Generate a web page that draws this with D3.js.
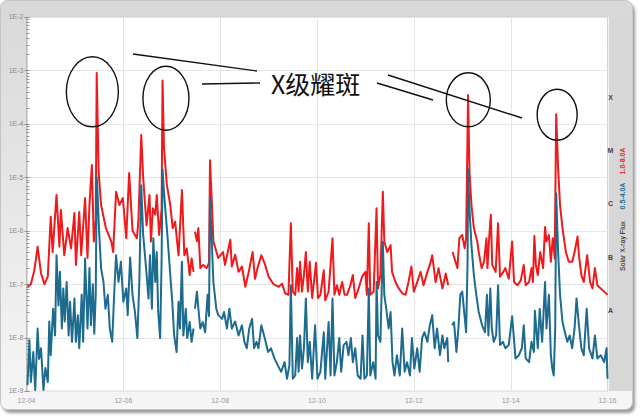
<!DOCTYPE html>
<html>
<head>
<meta charset="utf-8">
<script src="https://cdn.jsdelivr.net/npm/d3@7"></script>
<style>
  html, body { margin: 0; padding: 0; background: #fff; }
  svg { display: block; }
</style>
</head>
<body>
<svg id="chart" width="640" height="418"></svg>
<script>
// days since 12-04 00:00, log10 of flux (W/m2); null = data gap
const longSeries = [[0.02,-7.05],[0.09,-7.0],[0.16,-6.75],[0.23,-6.3],[0.30,-6.8],[0.37,-7.0],[0.44,-6.86],[0.50,-5.74],[0.54,-6.4],[0.62,-5.33],[0.68,-6.3],[0.71,-5.61],[0.78,-6.46],[0.85,-5.95],[0.92,-6.33],[0.99,-5.67],[1.02,-6.64],[1.09,-5.65],[1.13,-6.46],[1.21,-5.39],[1.26,-6.51],[1.30,-5.52],[1.35,-4.77],[1.39,-6.2],[1.43,-5.8],[1.45,-3.05],[1.49,-4.9],[1.54,-5.52],[1.64,-5.95],[1.75,-6.2],[1.79,-6.4],[1.85,-5.27],[1.92,-5.52],[1.99,-5.39],[2.06,-6.14],[2.12,-4.92],[2.19,-6.0],[2.28,-6.14],[2.31,-5.83],[2.37,-4.21],[2.41,-5.01],[2.48,-5.9],[2.54,-5.33],[2.57,-6.2],[2.61,-5.58],[2.66,-5.7],[2.69,-5.33],[2.74,-6.08],[2.79,-5.6],[2.81,-3.19],[2.84,-4.45],[2.90,-5.15],[2.97,-5.52],[3.02,-5.95],[3.07,-5.83],[3.14,-6.46],[3.21,-5.24],[3.26,-6.46],[3.31,-6.33],[3.37,-6.83],[3.41,-6.52],[3.45,-6.77],[3.46,null],[3.48,-6.02],[3.52,-6.2],[3.55,-5.95],[3.59,-6.7],[3.65,-6.64],[3.72,-6.7],[3.77,-6.6],[3.79,-4.68],[3.83,-5.52],[3.86,-6.2],[3.96,-6.51],[4.06,-6.4],[4.10,-6.64],[4.21,-6.17],[4.24,-6.67],[4.31,-6.45],[4.38,-6.77],[4.45,-6.67],[4.52,-7.05],[4.59,-6.77],[4.67,-6.4],[4.72,-6.9],[4.77,-6.7],[4.85,-6.46],[4.93,-6.64],[5.00,-6.86],[5.10,-7.0],[5.21,-7.05],[5.28,-6.99],[5.34,-7.17],[5.41,-7.2],[5.46,-5.86],[5.50,-7.14],[5.55,-7.2],[5.59,-6.7],[5.62,-7.14],[5.65,-6.58],[5.69,-7.14],[5.73,-6.83],[5.77,-6.4],[5.81,-7.14],[5.85,-6.58],[5.90,-7.26],[5.98,-6.6],[6.02,-7.26],[6.07,-7.2],[6.14,-6.74],[6.17,-7.3],[6.24,-7.14],[6.32,-6.14],[6.36,-7.2],[6.41,-7.02],[6.46,-7.2],[6.52,-6.96],[6.57,-7.2],[6.62,-7.2],[6.69,-7.02],[6.74,-6.83],[6.79,-7.26],[6.86,-7.08],[6.93,-6.86],[7.00,-6.77],[7.03,-7.2],[7.07,-5.86],[7.10,-7.2],[7.17,-7.14],[7.23,-5.58],[7.26,-7.08],[7.31,-6.83],[7.36,-5.27],[7.39,-6.2],[7.45,-6.4],[7.52,-6.27],[7.55,-6.77],[7.62,-6.96],[7.69,-7.08],[7.76,-7.17],[7.83,-7.2],[7.89,-6.96],[7.95,-6.67],[8.00,-7.14],[8.07,-6.96],[8.14,-6.77],[8.20,-7.02],[8.28,-6.77],[8.33,-6.64],[8.38,-6.46],[8.45,-6.96],[8.51,-6.7],[8.59,-7.08],[8.66,-6.8],[8.71,-7.02],[8.75,null],[8.80,-6.4],[8.84,-6.52],[8.90,-6.7],[8.94,-6.14],[9.00,-6.08],[9.05,-6.33],[9.08,-6.14],[9.12,-3.46],[9.15,-4.9],[9.19,-5.52],[9.24,-5.95],[9.31,-6.2],[9.34,-6.4],[9.40,-6.7],[9.45,-6.58],[9.50,-6.14],[9.52,-6.7],[9.56,-6.08],[9.59,-5.7],[9.62,-6.64],[9.69,-6.77],[9.74,-5.86],[9.78,-6.86],[9.83,-6.8],[9.89,-6.7],[9.96,-6.9],[10.03,-6.2],[10.07,-6.96],[10.14,-7.02],[10.21,-6.93],[10.27,-6.64],[10.31,-7.02],[10.38,-6.96],[10.43,-6.7],[10.46,-6.96],[10.49,-6.1],[10.52,-6.64],[10.56,-6.83],[10.61,-6.4],[10.67,-6.7],[10.71,-5.93],[10.74,-6.2],[10.79,-6.08],[10.83,-6.58],[10.87,-6.14],[10.91,-6.52],[10.94,-3.82],[10.98,-4.83],[11.02,-5.52],[11.07,-5.95],[11.14,-6.4],[11.20,-6.58],[11.27,-6.58],[11.32,-6.4],[11.38,-6.11],[11.41,-6.46],[11.46,-6.83],[11.51,-6.96],[11.58,-6.46],[11.64,-6.96],[11.69,-7.08],[11.74,-6.7],[11.79,-7.02],[11.86,-7.08],[11.93,-7.14],[12.0,-7.2]]

const shortSeries = [[0.02,-8.89],[0.06,-8.05],[0.09,-8.83],[0.14,-8.27],[0.18,-8.98],[0.23,-7.83],[0.26,-8.4],[0.30,-8.2],[0.35,-8.98],[0.39,-8.57],[0.44,-8.83],[0.47,-7.7],[0.50,-8.33],[0.55,-7.46],[0.59,-7.96],[0.62,-6.46],[0.66,-7.4],[0.69,-6.77],[0.73,-7.83],[0.76,-7.08],[0.79,-7.7],[0.83,-6.96],[0.87,-7.96],[0.90,-7.33],[0.94,-8.08],[0.99,-7.27],[1.02,-8.08],[1.06,-7.58],[1.09,-8.2],[1.14,-7.2],[1.17,-8.08],[1.21,-6.52],[1.26,-7.83],[1.30,-6.7],[1.33,-7.77],[1.37,-7.0],[1.40,-7.93],[1.43,-7.2],[1.45,-5.0],[1.47,-5.35],[1.50,-6.02],[1.54,-6.7],[1.59,-6.96],[1.63,-7.46],[1.68,-7.2],[1.72,-7.83],[1.77,-8.08],[1.81,-7.2],[1.85,-6.46],[1.90,-6.96],[1.95,-6.58],[2.00,-7.33],[2.06,-7.08],[2.09,-7.58],[2.14,-6.5],[2.19,-7.2],[2.24,-7.52],[2.29,-8.01],[2.33,-6.96],[2.37,-5.15],[2.41,-6.08],[2.47,-6.7],[2.52,-7.27],[2.55,-6.46],[2.59,-7.46],[2.62,-6.14],[2.66,-6.96],[2.69,-6.4],[2.72,-7.52],[2.76,-8.01],[2.79,-6.58],[2.81,-4.85],[2.83,-5.15],[2.86,-5.52],[2.91,-6.08],[2.97,-6.83],[3.01,-7.33],[3.05,-7.96],[3.10,-8.27],[3.14,-7.33],[3.17,-7.83],[3.21,-6.58],[3.24,-7.96],[3.29,-7.46],[3.32,-8.01],[3.37,-7.71],[3.41,-8.08],[3.45,-7.83],[3.46,null],[3.48,-7.46],[3.52,-7.14],[3.55,-7.46],[3.59,-7.83],[3.64,-7.71],[3.69,-7.9],[3.74,-7.2],[3.77,-7.6],[3.79,-5.39],[3.83,-6.27],[3.86,-6.96],[3.92,-7.46],[3.96,-7.58],[4.04,-7.65],[4.08,-7.52],[4.14,-7.83],[4.19,-7.46],[4.24,-7.83],[4.31,-7.7],[4.38,-7.96],[4.45,-7.77],[4.50,-8.08],[4.55,-8.2],[4.60,-7.83],[4.66,-7.65],[4.70,-8.2],[4.75,-8.08],[4.79,-8.2],[4.85,-7.77],[4.92,-8.01],[4.99,-8.27],[5.05,-8.2],[5.12,-8.39],[5.19,-8.52],[5.26,-8.64],[5.33,-8.46],[5.38,-8.77],[5.43,-8.52],[5.46,-7.02],[5.50,-8.77],[5.55,-8.71],[5.59,-8.01],[5.62,-8.64],[5.65,-7.96],[5.69,-8.58],[5.73,-8.2],[5.77,-7.27],[5.81,-8.46],[5.85,-8.08],[5.90,-8.77],[5.96,-7.77],[6.01,-8.77],[6.07,-8.64],[6.14,-7.9],[6.17,-8.77],[6.24,-7.71],[6.28,-8.71],[6.32,-7.27],[6.36,-8.71],[6.41,-8.46],[6.46,-8.01],[6.50,-8.64],[6.55,-8.14],[6.61,-8.08],[6.65,-8.33],[6.70,-8.01],[6.74,-8.46],[6.79,-8.2],[6.84,-8.71],[6.90,-8.77],[6.94,-7.96],[6.98,-8.77],[7.03,-8.71],[7.07,-7.08],[7.10,-8.71],[7.16,-8.46],[7.21,-8.77],[7.23,-6.96],[7.26,-7.96],[7.31,-8.08],[7.36,-6.21],[7.39,-7.2],[7.43,-7.46],[7.48,-7.83],[7.52,-7.52],[7.56,-8.46],[7.60,-8.71],[7.65,-8.33],[7.71,-8.71],[7.76,-7.83],[7.81,-8.64],[7.86,-8.46],[7.92,-8.71],[7.96,-8.01],[8.01,-8.58],[8.07,-8.2],[8.12,-8.64],[8.17,-8.01],[8.22,-7.9],[8.28,-8.08],[8.33,-7.77],[8.38,-7.58],[8.43,-8.2],[8.48,-7.83],[8.54,-8.33],[8.59,-7.96],[8.63,-8.2],[8.69,-8.01],[8.71,-8.46],[8.75,null],[8.79,-7.77],[8.83,-7.71],[8.88,-8.27],[8.92,-7.83],[8.96,-7.2],[9.00,-7.14],[9.04,-7.52],[9.08,-7.9],[9.11,-6.58],[9.12,-4.85],[9.15,-5.6],[9.19,-6.27],[9.24,-6.83],[9.29,-7.2],[9.34,-7.52],[9.41,-7.77],[9.47,-7.9],[9.51,-7.2],[9.54,-7.96],[9.58,-7.08],[9.61,-7.83],[9.65,-8.08],[9.70,-7.96],[9.74,-7.02],[9.78,-8.14],[9.84,-8.08],[9.89,-8.2],[9.96,-8.14],[10.03,-7.6],[10.10,-8.39],[10.17,-8.33],[10.23,-8.2],[10.27,-7.77],[10.31,-8.39],[10.38,-8.46],[10.43,-8.08],[10.48,-8.27],[10.50,-7.5],[10.56,-8.2],[10.60,-7.46],[10.65,-8.08],[10.71,-6.96],[10.74,-7.83],[10.79,-7.2],[10.83,-8.33],[10.86,-8.58],[10.89,-8.71],[10.92,-7.83],[10.94,-5.3],[10.98,-6.4],[11.02,-7.2],[11.07,-7.71],[11.12,-7.9],[11.17,-8.08],[11.22,-7.96],[11.27,-8.2],[11.32,-7.83],[11.36,-7.27],[11.41,-7.77],[11.46,-8.2],[11.51,-8.33],[11.57,-7.46],[11.62,-8.2],[11.69,-8.39],[11.74,-7.96],[11.79,-8.39],[11.86,-8.33],[11.93,-8.46],[11.98,-8.2],[12.0,-8.77]]

const xTicks = [0, 2, 4, 6, 8, 10, 12]
const xLabels = ['12-04', '12-06', '12-08', '12-10', '12-12', '12-14', '12-16']
const classNames = ['A', 'B', 'C', 'M', 'X']
const classBounds = [1e-8, 1e-7, 1e-6, 1e-5, 1e-4, 1e-3]
const seriesNames = ['1.0-8.0A', '0.5-4.0A']
const axisTitle = 'Solar X-ray Flux'
const flareLabel = 'X级耀斑'
// circled flares: [day, log10 flux] of the ellipse centre, radii in px
const flareMarks = [[1.36, -3.40, 26, 35], [2.88, -3.52, 23, 32], [9.125, -3.55, 22, 27], [10.96, -3.83, 20, 25.5]]

const pLeft = 26.5, pRight = 607.5, pTop = 17, pBottom = 391
const red = '#ee1a1c', blue = '#1d6b8f'

const svg = d3.select('#chart')
const defs = svg.append('defs')
const grad = defs.append('linearGradient').attr('id', 'panelGrad').attr('x1', 0).attr('y1', 0).attr('x2', 0).attr('y2', 1)
grad.append('stop').attr('offset', '0%').attr('stop-color', '#d8d8d8')
grad.append('stop').attr('offset', '100%').attr('stop-color', '#f6f6f6')
defs.append('filter').attr('id', 'blur').append('feGaussianBlur').attr('stdDeviation', 1.6)

// panel + shadow
svg.append('rect').attr('x', 3).attr('y', 4).attr('width', 632).attr('height', 409).attr('rx', 7)
    .attr('fill', '#9a9a9a').attr('filter', 'url(#blur)')
svg.append('rect').attr('x', 0.5).attr('y', 0.5).attr('width', 632).attr('height', 409).attr('rx', 7)
    .attr('fill', 'url(#panelGrad)').attr('stroke', '#c4c4c4')
svg.append('rect').attr('x', pRight).attr('y', pTop).attr('width', 25).attr('height', pBottom - pTop)
    .attr('fill', '#d7d7d7')
svg.append('line').attr('x1', pRight + 1).attr('x2', pRight + 1).attr('y1', pTop).attr('y2', pBottom)
    .attr('stroke', '#f4f4f4')

const x = d3.scaleLinear().domain([0, 12]).range([pLeft, pRight])
const y = d3.scaleLog().domain([1e-9, 1e-2]).range([pBottom, pTop])

svg.append('rect').attr('x', pLeft).attr('y', pTop).attr('width', pRight - pLeft).attr('height', pBottom - pTop)
    .attr('fill', '#fff').attr('stroke', '#c2c2c2').attr('stroke-width', 0.6)

const isMajor = d => Math.abs(Math.log10(d) - Math.round(Math.log10(d))) < 1e-6
const decades = y.ticks().filter(isMajor)

// grid
svg.append('g').selectAll('line').data(decades).join('line')
    .attr('x1', pLeft).attr('x2', pRight)
    .attr('y1', d => Math.round(y(d)) + 0.5).attr('y2', d => Math.round(y(d)) + 0.5)
    .attr('stroke', '#e6e6e6')
svg.append('g').selectAll('line').data(xTicks.slice(1, -1)).join('line')
    .attr('y1', pTop).attr('y2', pBottom)
    .attr('x1', d => Math.round(x(d)) + 0.5).attr('x2', d => Math.round(x(d)) + 0.5)
    .attr('stroke', '#e6e6e6')

// y axis ticks (log, minor every 1..9)
svg.append('g').selectAll('line').data(y.ticks()).join('line')
    .attr('x1', d => isMajor(d) ? pLeft - 2 : pLeft).attr('x2', pLeft + 3)
    .attr('y1', d => Math.round(y(d)) + 0.5).attr('y2', d => Math.round(y(d)) + 0.5)
    .attr('stroke', '#777').attr('stroke-width', 0.8)
svg.append('line').attr('x1', pLeft + 0.5).attr('x2', pLeft + 0.5).attr('y1', pTop).attr('y2', pBottom)
    .attr('stroke', '#999').attr('stroke-width', 0.8)
svg.append('g').selectAll('text').data(decades).join('text')
    .attr('x', pLeft - 3).attr('y', d => y(d)).attr('dy', '0.35em')
    .attr('text-anchor', 'end')
    .attr('font-family', 'Liberation Sans, Arial, sans-serif').attr('font-size', 7).attr('fill', '#8a8a8a')
    .text(d => '1E' + Math.round(Math.log10(d)))

// x labels
svg.append('g').selectAll('text').data(xTicks).join('text')
    .attr('x', d => x(d)).attr('y', 403).attr('text-anchor', 'middle')
    .attr('font-family', 'Liberation Sans, Arial, sans-serif').attr('font-size', 7).attr('fill', '#999')
    .text((d, i) => xLabels[i])

// flare class letters on the right strip
svg.append('g').selectAll('text').data(classNames).join('text')
    .attr('x', pRight + 3).attr('y', (d, i) => y(Math.sqrt(classBounds[i] * classBounds[i + 1])))
    .attr('dy', '0.35em').attr('text-anchor', 'middle')
    .attr('font-family', 'Liberation Sans, Arial, sans-serif').attr('font-size', 7)
    .attr('font-weight', 'bold').attr('fill', '#444')
    .text(d => d)

const sideText = [
    { t: seriesNames[0], c: red, cy: 161, w: 'bold' },
    { t: seriesNames[1], c: blue, cy: 196, w: 'bold' },
    { t: axisTitle, c: '#111', cy: 246, w: 'normal' }
]
svg.append('g').selectAll('text').data(sideText).join('text')
    .attr('transform', d => 'translate(622.5,' + d.cy + ') rotate(-90)')
    .attr('text-anchor', 'middle').attr('dy', '0.35em')
    .attr('font-family', 'Liberation Sans, Arial, sans-serif').attr('font-size', 7)
    .attr('font-weight', d => d.w).attr('fill', d => d.c)
    .text(d => d.t)

// series
const toPoints = s => s.map(p => ({ t: p[0], v: p[1] === null ? null : Math.pow(10, p[1]) }))
const line = d3.line()
    .defined(d => d.v !== null)
    .x(d => x(d.t))
    .y(d => y(d.v))

const plot = svg.append('g')
plot.append('path').datum(toPoints(longSeries))
    .attr('d', line).attr('fill', 'none').attr('stroke', red)
    .attr('stroke-width', 2).attr('stroke-linejoin', 'round')
plot.append('path').datum(toPoints(shortSeries))
    .attr('d', line).attr('fill', 'none').attr('stroke', blue)
    .attr('stroke-width', 2).attr('stroke-linejoin', 'round')

// annotation
const ann = svg.append('g').attr('fill', 'none').attr('stroke', '#111').attr('stroke-width', 1.4)
ann.selectAll('ellipse').data(flareMarks).join('ellipse')
    .attr('cx', d => x(d[0])).attr('cy', d => y(Math.pow(10, d[1])))
    .attr('rx', d => d[2]).attr('ry', d => d[3])
const pointers = [[133, 54, 257, 71], [202, 84, 260, 83], [377, 83, 433, 100], [388, 75, 522, 118]]
ann.selectAll('line').data(pointers).join('line')
    .attr('x1', d => d[0]).attr('y1', d => d[1]).attr('x2', d => d[2]).attr('y2', d => d[3])
svg.append('text').attr('x', 271).attr('y', 93.5)
    .attr('font-family', 'Noto Sans CJK SC, Noto Sans, sans-serif').attr('font-size', 25)
    .attr('fill', '#111')
    .text(flareLabel)
</script>
</body>
</html>
